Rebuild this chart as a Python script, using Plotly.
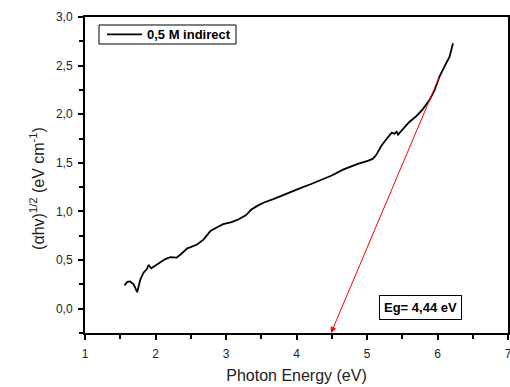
import plotly.graph_objects as go

# Photon energy (eV)
energy = [1.56, 1.60, 1.64, 1.69, 1.74, 1.76, 1.785, 1.83, 1.88, 1.90, 1.94, 2.00, 2.07,
          2.14, 2.21, 2.30, 2.36, 2.45, 2.49, 2.59, 2.68, 2.78, 2.88, 2.96, 3.08, 3.18,
          3.28, 3.36, 3.45, 3.53, 3.68, 3.81, 3.95, 4.09, 4.20, 4.33, 4.50, 4.66, 4.80,
          4.87, 5.01, 5.08, 5.13, 5.20, 5.26, 5.30, 5.35, 5.39, 5.42, 5.44, 5.50, 5.60,
          5.70, 5.79, 5.89, 5.96, 6.03, 6.08, 6.12, 6.17, 6.22]
# (alpha h nu)^(1/2) values
ahv = [0.24, 0.275, 0.28, 0.25, 0.17, 0.22, 0.30, 0.37, 0.41, 0.45, 0.415, 0.445, 0.48,
       0.51, 0.53, 0.525, 0.56, 0.62, 0.63, 0.66, 0.71, 0.80, 0.84, 0.87, 0.89, 0.92,
       0.96, 1.02, 1.06, 1.09, 1.13, 1.17, 1.21, 1.25, 1.28, 1.32, 1.37, 1.43, 1.47,
       1.49, 1.52, 1.54, 1.58, 1.67, 1.73, 1.77, 1.81, 1.80, 1.82, 1.79, 1.84, 1.92,
       1.98, 2.05, 2.15, 2.25, 2.39, 2.47, 2.52, 2.59, 2.73]

series_name = "0,5 M indirect"
eg_label = "Eg= 4,44 eV"
x_title = "Photon Energy (eV)"
y_title = "(αhv)<sup>1/2</sup> (eV cm<sup>-1</sup>)"
# tangent (extrapolation) line end points
tangent_x = [6.03, 4.49]
tangent_y = [2.39, -0.25]

FONT = "Liberation Sans, Arial, sans-serif"

fig = go.Figure()
fig.add_trace(go.Scatter(x=energy, y=ahv, mode="lines", name=series_name,
                         line=dict(color="black", width=1.8), showlegend=False))

# extrapolation arrow
fig.add_annotation(x=tangent_x[1], y=tangent_y[1], ax=tangent_x[0], ay=tangent_y[0],
                   xref="x", yref="y", axref="x", ayref="y", text="",
                   showarrow=True, arrowcolor="red", arrowwidth=1,
                   arrowhead=2, arrowsize=1.2)

# Eg label box
fig.add_annotation(x=5.755, y=0.015, xref="x", yref="y", text="<b>" + eg_label + "</b>",
                   showarrow=False, bordercolor="black", borderwidth=1, borderpad=4,
                   bgcolor="white", font=dict(family=FONT, size=13, color="black"))

# legend box (drawn by hand, as in the original Origin plot)
fig.add_shape(type="rect", xref="paper", yref="paper",
              x0=0.0331, x1=0.357, y0=0.9146, y1=0.9747,
              line=dict(color="black", width=1), fillcolor="white", layer="above")
fig.add_shape(type="line", xref="paper", yref="paper",
              x0=0.052, x1=0.135, y0=0.945, y1=0.945,
              line=dict(color="black", width=1.8), layer="above")
fig.add_annotation(x=0.141, y=0.945, xref="paper", yref="paper", xanchor="left",
                   yanchor="middle", showarrow=False, text="<b>" + series_name + "</b>",
                   font=dict(family=FONT, size=13, color="black"))

# y-axis title (placed like the original, slightly below the axis centre)
fig.add_annotation(x=-0.142, y=0.459, xref="paper", yref="paper", textangle=-90,
                   showarrow=False, text=y_title,
                   font=dict(family=FONT, size=16, color="#222"))

axis_common = dict(showline=True, linecolor="black", linewidth=2, mirror=True,
                   showgrid=False, zeroline=False, ticks="outside", ticklen=5,
                   tickwidth=1.5, tickcolor="black", automargin=False,
                   ticklabeloverflow="allow",
                   tickfont=dict(family=FONT, size=12, color="#222"))

fig.update_xaxes(range=[1, 7], tick0=1, dtick=1,
                 minor=dict(dtick=0.5, ticks="outside", ticklen=4, tickwidth=1.5, tickcolor="black"),
                 title=dict(text=x_title, standoff=9,
                            font=dict(family=FONT, size=16, color="#222")),
                 ticklabelstandoff=4, **axis_common)
fig.update_yaxes(range=[-0.25, 3.0], tick0=0, dtick=0.5, tickformat=".1f",
                 minor=dict(dtick=0.25, ticks="outside", ticklen=4, tickwidth=1.5, tickcolor="black"),
                 ticklabelstandoff=3, **axis_common)

fig.update_layout(
    width=510, height=387,
    margin=dict(l=85, r=2, t=17, b=54),
    paper_bgcolor="white", plot_bgcolor="white",
    separators=", ",
    showlegend=False,
)

fig.write_html("out.html", config={"displayModeBar": False},
               post_script="document.body.style.margin='0px';document.body.style.overflow='hidden';")
